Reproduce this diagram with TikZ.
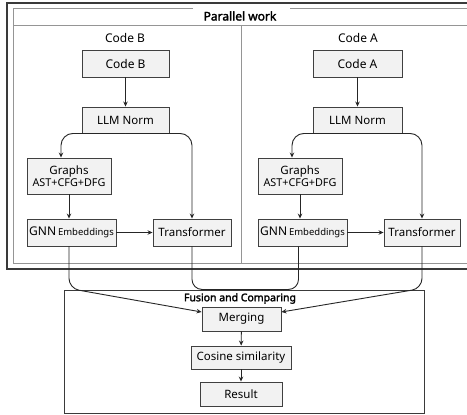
\documentclass[tikz,border=0pt]{standalone}
\usepackage{fontspec}
\setmainfont{Noto Sans}
\newfontfamily\titlefont{Noto Sans}[FakeBold=2.2]
\usetikzlibrary{calc,arrows.meta}
\definecolor{boxfill}{HTML}{F2F2F2}
\definecolor{boxline}{HTML}{404040}
\definecolor{frameline}{HTML}{3A3A3A}
\definecolor{innerline}{HTML}{959595}
\tikzset{
  box/.style={draw=boxline, fill=boxfill, line width=0.9pt, minimum height=26pt, inner sep=1pt, align=center, font=\fontsize{11.5}{13}\selectfont},
  lbl/.style={font=\fontsize{12}{14}\selectfont},
  arr/.style={draw=black!85, line width=0.9pt, -{Stealth[length=5pt,width=4.5pt]}},
  lin/.style={draw=black!85, line width=0.9pt},
}
\begin{document}
\begin{tikzpicture}[x=1pt,y=-1pt]
\useasboundingbox[fill=white] (0,0) rectangle (467,415);
% frames
\draw[frameline, line width=1.2pt] (470,3) -- (7,3) -- (7,269) -- (470,269);
\draw[innerline, line width=0.9pt] (193,8) -- (13,8) -- (13,263) -- (470,263);
\draw[innerline, line width=0.9pt] (290,8) -- (470,8);
\draw[innerline, line width=0.9pt] (13,25) -- (470,25);
\draw[innerline, line width=0.9pt] (241,25) -- (241,263);
\node[font=\titlefont\fontsize{12}{14}\selectfont] (title) at (240,16) {Parallel work};
% left column
\node[lbl] (labB) at (125,38) {Code B};
\node[box, minimum width=87pt, minimum height=27pt, font=\fontsize{12}{14}\selectfont] (codeB) at (125.5,63.5) {Code B};
\node[box, minimum width=87pt] (llmB) at (125.5,120) {LLM Norm};
\node[box, minimum width=84pt, minimum height=36pt] (graphB) at (69,176) {Graphs\\[-1pt]{\fontsize{10.8}{12}\selectfont AST+CFG+DFG}};
\node[box, minimum width=89pt, minimum height=27pt] (gnnB) at (71.5,232.5) {{\fontsize{12}{14}\selectfont GNN}\,{\fontsize{9.5}{11}\selectfont Embeddings}};
\node[box, minimum width=78pt, minimum height=27pt] (trB) at (192,232.5) {Transformer};
% right column
\node[lbl] (labA) at (358,38) {Code A};
\node[box, minimum width=89pt, minimum height=27pt, font=\fontsize{12}{14}\selectfont] (codeA) at (357.5,63.5) {Code A};
\node[box, minimum width=89pt] (llmA) at (357.5,120) {LLM Norm};
\node[box, minimum width=84pt, minimum height=36pt] (graphA) at (300,176) {Graphs\\[-1pt]{\fontsize{10.8}{12}\selectfont AST+CFG+DFG}};
\node[box, minimum width=89pt, minimum height=27pt] (gnnA) at (302.5,232.5) {{\fontsize{12}{14}\selectfont GNN}\,{\fontsize{9.5}{11}\selectfont Embeddings}};
\node[box, minimum width=76pt, minimum height=27pt] (trA) at (422,232.5) {Transformer};
% fusion
\draw[frameline, line width=1pt] (64,290) rectangle (424,413);
\node[font=\titlefont\fontsize{10.5}{12}\selectfont] (ftitle) at (240,298.5) {Fusion and Comparing};
\node[box, minimum width=79pt, minimum height=24pt] (merge) at (241.5,319) {Merging};
\node[box, minimum width=100pt, minimum height=23pt] (cos) at (241,357.5) {Cosine similarity};
\node[box, minimum width=82pt, minimum height=24pt] (res) at (241,394) {Result};
% arrows
\draw[arr] (codeB) -- (llmB);
\draw[arr] (codeA) -- (llmA);
\draw[arr, rounded corners=12pt] (llmB.south) -| ($(graphB.north)+(-8,0)$);
\draw[arr, rounded corners=12pt] (llmB.south) -| (trB.north);
\draw[arr, rounded corners=12pt] (llmA.south) -| ($(graphA.north)+(-8,0)$);
\draw[arr, rounded corners=12pt] (llmA.south) -| (trA.north);
\draw[arr] (graphB) -- (graphB |- gnnB.north);
\draw[arr] (graphA) -- (graphA |- gnnA.north);
\draw[arr] (gnnB) -- (trB);
\draw[arr] (gnnA) -- (trA);
\draw[arr, rounded corners=10pt] ($(gnnB.south)+(-2.5,0)$) -- ++(0,42) -- ($(merge.west)+(0,-7)$);
\draw[arr, rounded corners=10pt] (trA.south) -- ++(0,42) -- ($(merge.east)+(0,-7)$);
\draw[lin, rounded corners=10pt] (trB.south) |- ($(gnnA.south)+(-4,43)$) -- ($(gnnA.south)+(-4,0)$);
\draw[arr] (merge) -- (cos);
\draw[arr] (cos) -- (res);
\end{tikzpicture}
\end{document}
